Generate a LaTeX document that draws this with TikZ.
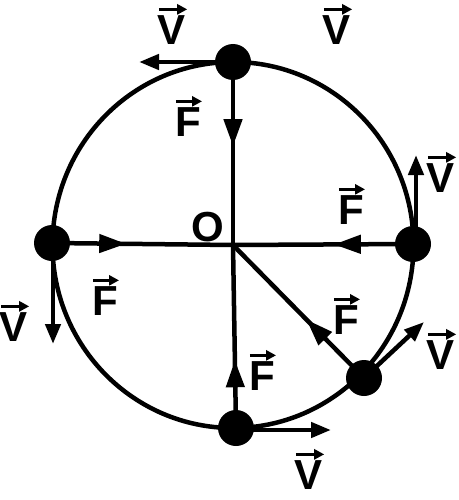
\documentclass[tikz,border=0pt]{standalone}
\usepackage{fontspec}
\setmainfont{Liberation Sans}
\usetikzlibrary{arrows.meta,decorations.markings}
\tikzset{
  ball/.style={circle,fill=black,minimum size=36pt,inner sep=0pt},
  letter/.style={font=\fontsize{42}{42}\selectfont\bfseries,inner sep=0pt},
  overarrow/.style={line width=3.5pt,-{Triangle[length=10pt,width=10pt]}},
  vec/.style={letter,
    append after command={([yshift=6pt,xshift=1pt]\tikzlastnode.north west) edge[overarrow] ([yshift=6pt,xshift=1pt]\tikzlastnode.north east)}},
  vel/.style={line width=4.5pt,-{Triangle[length=20pt,width=15pt]}},
  force/.style={line width=4.5pt,postaction={decorate},
    decoration={markings,mark=at position #1 with {\arrow{Triangle[length=27pt,width=18pt]}}}},
}
\begin{document}
\begin{tikzpicture}[x=1pt,y=-1pt]
  \useasboundingbox (0,0) rectangle (458,500);
  % centre and orbit
  \coordinate (o) at (233,245);
  \draw[line width=4.5pt] (o) ellipse [x radius=180.5, y radius=183];
  % bodies on the orbit
  \node[name=pt,ball] at (233,62){};
  \node[name=pr,ball] at (413,244){};
  \node[name=pl,ball] at (52,243){};
  \node[name=pb,ball] at (236,428){};
  \node[name=pd,ball] at (364,378){};
  % forces towards the centre
  \draw[force=0.46] (pt.center) -- (o);
  \draw[force=0.44] (pr.center) -- (o);
  \draw[force=0.41] (pl.center) -- (o);
  \draw[force=0.37] (pb.center) -- (o);
  \draw[force=0.44] (pd.center) -- (o);
  % velocities
  \coordinate (vt) at (139,62);
  \coordinate (vr) at (416,155);
  \coordinate (vl) at (53,344);
  \coordinate (vb) at (331,430);
  \coordinate (vd) at (424,322);
  \draw[vel] (pt.center) -- (vt);
  \draw[vel] ([xshift=3pt]pr.center) -- (vr);
  \draw[vel] ([xshift=1pt]pl.center) -- (vl);
  \draw[vel] ([yshift=-2pt]pb.center) -- (vb);
  \draw[vel] (pd.center) -- (vd);
  % labels
  \node[name=lo,letter] at (208,227){O};
  \node[name=v1,vec] at (172,30){V};
  \node[name=v2,vec] at (337,30){V};
  \node[name=f1,vec] at (188,122){F};
  \node[name=v3,vec] at (441,178){V};
  \node[name=f2,vec] at (351,210){F};
  \node[name=v4,vec] at (14,327){V};
  \node[name=f3,vec] at (105,301){F};
  \node[name=f4,vec] at (346,320){F};
  \node[name=f5,vec] at (262,376){F};
  \node[name=v5,vec] at (441,355){V};
  \node[name=v6,vec] at (309,475){V};
\end{tikzpicture}
\end{document}
